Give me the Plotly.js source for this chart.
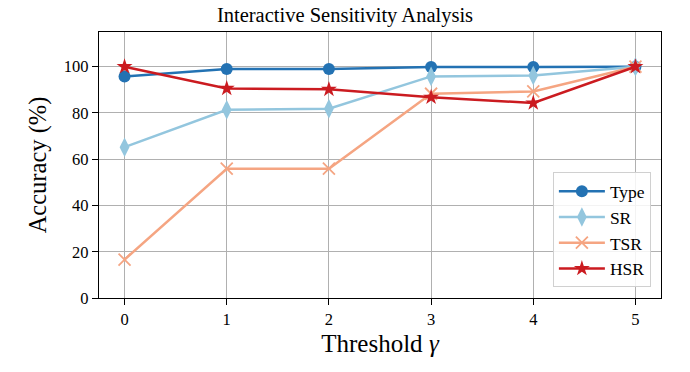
<!DOCTYPE html>
<html>
<head>
<meta charset="utf-8">
<script src="https://cdn.plot.ly/plotly-3.0.1.min.js"></script>
<style>html,body{margin:0;padding:0;background:#fff;}#chart{width:690px;height:372px;}</style>
</head>
<body>
<div id="chart"></div>
<script>
const thresholds = [0, 1, 2, 3, 4, 5];
const typeAcc = [95.8, 99.0, 99.0, 99.9, 99.9, 100];
const srAcc   = [65.2, 81.4, 81.8, 95.8, 96.2, 100];
const tsrAcc  = [16.6, 55.9, 55.9, 88.3, 89.3, 100];
const hsrAcc  = [100, 90.6, 90.2, 86.8, 84.3, 100];
const seriesNames = ['Type', 'SR', 'TSR', 'HSR'];
const colors = ['#2372b3', '#93c6de', '#f5a582', '#cb1b20'];
const symbols = ['circle', 'diamond-tall', 'x-thin-open', 'star'];
const sizes = [12, 14, 12, 12];
const values = [typeAcc, srAcc, tsrAcc, hsrAcc];

const font = "'Liberation Serif', 'Times New Roman', serif";
const traces = values.map((v, i) => ({
  x: thresholds, y: v, name: seriesNames[i], type: 'scatter', mode: 'lines+markers',
  line: {color: colors[i], width: 2.5},
  marker: {symbol: symbols[i], size: sizes[i], color: colors[i],
           line: {color: colors[i], width: i === 2 ? 1.8 : 0}}
}));

const layout = {
  width: 690, height: 372,
  margin: {l: 99, r: 29, t: 32, b: 74},
  paper_bgcolor: '#fff', plot_bgcolor: '#fff',
  title: {text: 'Interactive Sensitivity Analysis', font: {family: font, size: 20.5, color: '#000'}, x: 0.5, xanchor: 'center', y: 0.96, yanchor: 'middle', yref: 'container'},
  xaxis: {
    range: [-0.25, 5.25], tickvals: thresholds, ticktext: thresholds.map(String),
    showgrid: true, gridcolor: '#b0b0b0', gridwidth: 1,
    showline: true, linecolor: '#000', linewidth: 1.2, mirror: true,
    ticks: 'outside', ticklen: 6, tickcolor: '#000', zeroline: false,
    tickfont: {family: font, size: 16.5, color: '#000'},
    title: {text: 'Threshold <i>γ</i>', font: {family: font, size: 25, color: '#000'}, standoff: 6}
  },
  yaxis: {
    range: [0, 115], tickvals: [0, 20, 40, 60, 80, 100],
    showgrid: true, gridcolor: '#b0b0b0', gridwidth: 1,
    showline: true, linecolor: '#000', linewidth: 1.2, mirror: true,
    ticks: 'outside', ticklen: 6, tickcolor: '#000', zeroline: false,
    tickfont: {family: font, size: 16.5, color: '#000'},
    title: {text: 'Accuracy (%)', font: {family: font, size: 24.5, color: '#000'}, standoff: 10}
  },
  legend: {
    x: 0.982, y: 0.04, xanchor: 'right', yanchor: 'bottom',
    bgcolor: 'rgba(255,255,255,0.85)', bordercolor: '#d0d0d0', borderwidth: 1,
    font: {family: font, size: 17.5, color: '#000'}, itemwidth: 46, tracegroupgap: 2
  },
  showlegend: true
};
Plotly.newPlot('chart', traces, layout, {displayModeBar: false, staticPlot: true});
</script>
</body>
</html>
